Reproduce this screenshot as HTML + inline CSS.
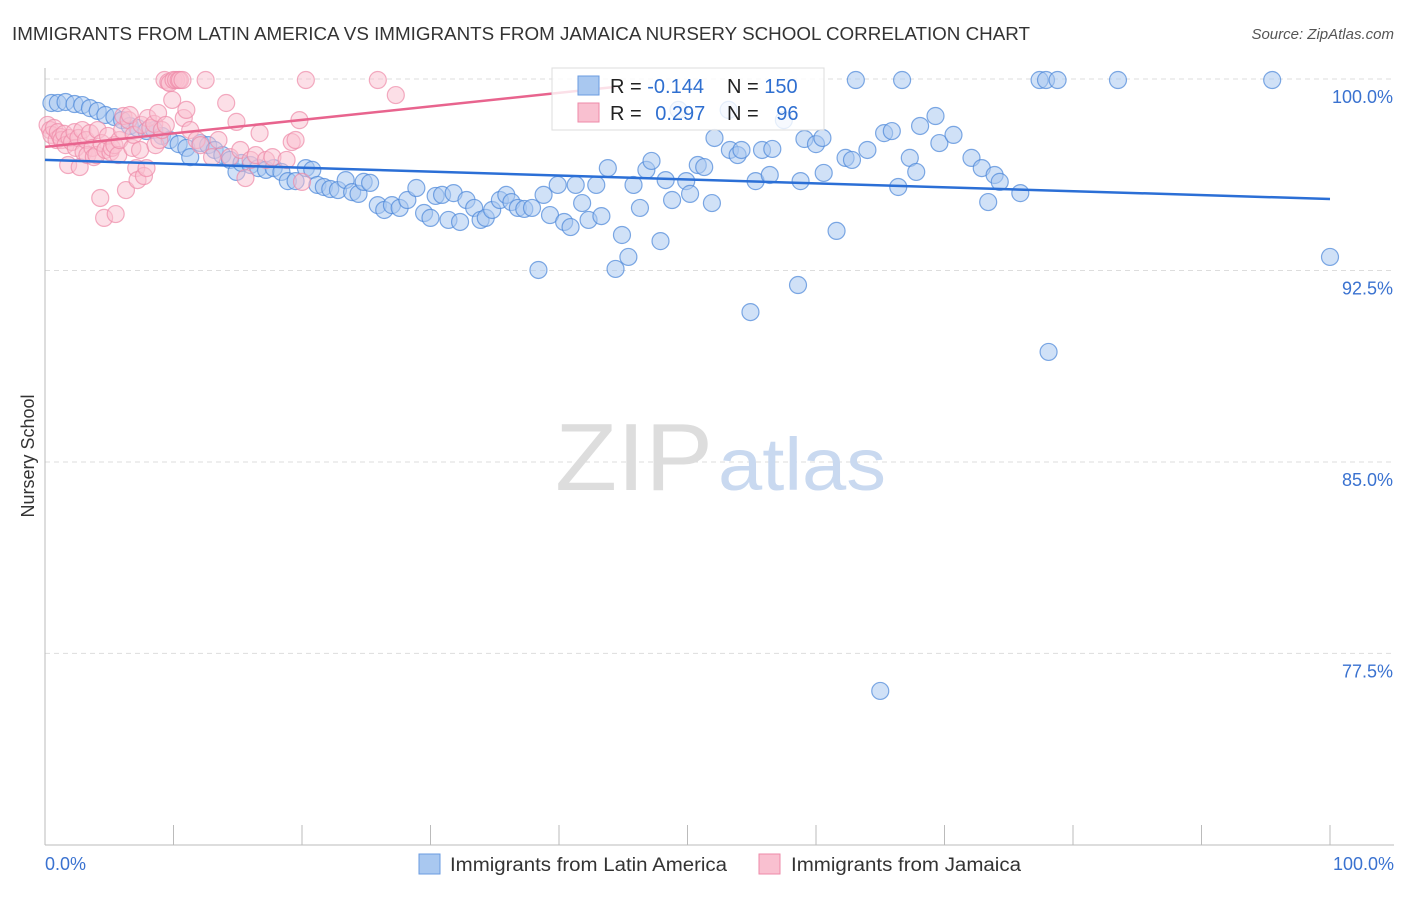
<!DOCTYPE html>
<html><head><meta charset="utf-8"><style>
body{margin:0;background:#fff;font-family:"Liberation Sans",sans-serif;}
svg text{font-family:"Liberation Sans",sans-serif;}
</style></head><body>
<svg width="1406" height="892" xmlns="http://www.w3.org/2000/svg">
<text x="12" y="40" font-size="18" fill="#333" textLength="1018" lengthAdjust="spacingAndGlyphs">IMMIGRANTS FROM LATIN AMERICA VS IMMIGRANTS FROM JAMAICA NURSERY SCHOOL CORRELATION CHART</text>
<text x="1394" y="39" font-size="15" fill="#555" text-anchor="end" font-style="italic">Source: ZipAtlas.com</text>
<g id="grid"></g>
<g id="axes"></g>
<text x="555" y="490" font-size="96" fill="#ddd" font-family="Liberation Serif" textLength="158" lengthAdjust="spacingAndGlyphs">ZIP</text>
<text x="718" y="490" font-size="74" fill="#c9d9f0" textLength="168" lengthAdjust="spacingAndGlyphs">atlas</text>
<g id="pts"></g>
<g id="lines"></g>
<g>
<rect x="552" y="68" width="272" height="62" fill="#fff" fill-opacity="0.8" stroke="#ddd"/>
<rect x="578" y="76" width="21" height="19" fill="#a9c8f0" stroke="#6a9be0"/>
<rect x="578" y="103" width="21" height="19" fill="#f9c0d0" stroke="#ee8aa8"/>
<text x="610" y="93" font-size="20" fill="#222">R = <tspan fill="#2f6fd0">-0.144</tspan></text>
<text x="727" y="93" font-size="20" fill="#222">N = <tspan fill="#2f6fd0">150</tspan></text>
<text x="610" y="120" font-size="20" fill="#222">R = <tspan fill="#2f6fd0" dx="8">0.297</tspan></text>
<text x="727" y="120" font-size="20" fill="#222">N = <tspan fill="#2f6fd0" dx="12">96</tspan></text>
</g>
<text x="34" y="456" font-size="18" fill="#333" transform="rotate(-90 34 456)" text-anchor="middle">Nursery School</text>
<text x="45" y="870" font-size="18" fill="#3a72d0">0.0%</text>
<text x="1394" y="870" font-size="18" fill="#3a72d0" text-anchor="end">100.0%</text>
<g>
<rect x="419" y="854" width="21" height="20" fill="#a9c8f0" stroke="#6a9be0"/>
<text x="450" y="871" font-size="19" fill="#333" textLength="277" lengthAdjust="spacingAndGlyphs">Immigrants from Latin America</text></g>
<g>
<rect x="759" y="854" width="21" height="20" fill="#f9c0d0" stroke="#ee8aa8"/>
<text x="791" y="871" font-size="19" fill="#333" textLength="230" lengthAdjust="spacingAndGlyphs">Immigrants from Jamaica</text></g>
</svg>
<script>
const yTicks=[100,92.5,85,77.5];
const yTickLabels=["100.0%","92.5%","85.0%","77.5%"];
const xTicks=[0,10,20,30,40,50,60,70,80,90,100];
const blueX=[0.5,1.0,1.6,2.3,2.9,3.5,4.1,4.7,5.4,6.0,6.6,7.2,7.9,8.5,9.1,9.7,10.4,11.0,11.3,12.1,12.7,13.2,13.8,14.4,14.9,15.3,16.0,16.6,17.2,17.8,18.4,18.9,19.5,20.3,20.8,21.2,21.7,22.2,22.8,23.4,23.9,24.4,24.8,25.3,25.9,26.4,27.0,27.6,28.2,28.9,29.5,30.0,30.4,30.9,31.4,31.8,32.3,32.8,33.4,33.9,34.3,34.8,35.4,35.9,36.3,36.8,37.3,37.9,38.4,38.8,39.3,39.9,40.4,40.9,41.3,41.8,42.3,42.9,43.3,43.8,44.4,44.9,45.4,45.8,46.3,46.8,47.2,47.9,48.3,48.8,49.3,49.9,50.2,50.8,51.3,51.9,52.1,53.2,53.3,53.9,54.2,54.9,55.3,55.8,56.4,56.6,57.5,58.6,58.8,59.1,60.0,60.5,60.6,61.6,62.3,62.8,63.1,64.0,65.0,65.3,65.9,66.4,66.7,67.3,67.8,68.1,69.3,69.6,70.7,72.1,72.9,73.4,73.9,74.3,75.9,77.4,77.9,78.1,78.8,83.5,95.5,100];
const blueY=[99.06,99.06,99.10,99.02,98.98,98.86,98.75,98.59,98.51,98.39,98.16,98.08,97.96,98.0,97.77,97.61,97.45,97.30,96.94,97.49,97.41,97.22,97.02,96.83,96.36,96.71,96.63,96.51,96.44,96.51,96.36,96.0,96.0,96.51,96.44,95.85,95.77,95.69,95.65,96.04,95.57,95.50,95.97,95.93,95.06,94.87,95.06,94.95,95.26,95.73,94.75,94.56,95.42,95.46,94.48,95.53,94.40,95.26,94.95,94.48,94.56,94.87,95.26,95.46,95.18,94.95,94.91,94.95,92.52,95.46,94.67,95.85,94.40,94.20,95.85,95.14,94.48,95.85,94.63,96.51,92.56,93.89,93.03,95.85,94.95,96.44,96.79,93.65,96.04,95.26,98.79,96.0,95.50,96.63,96.55,95.14,97.69,98.79,97.22,97.02,97.22,90.87,96.0,97.22,96.24,97.26,98.39,91.93,96.0,97.65,97.45,97.69,96.32,94.05,96.91,96.83,99.96,97.22,76.03,97.88,97.96,95.77,99.96,96.91,96.36,98.16,98.55,97.49,97.81,96.91,96.51,95.18,96.24,95.97,95.53,99.96,99.96,89.31,99.96,99.96,99.96,93.03];
const pinkX=[0.2,0.4,0.5,0.7,0.9,1.0,1.2,1.3,1.5,1.6,1.8,1.9,2.1,2.3,2.4,2.6,2.7,2.9,3.0,3.2,3.3,3.5,3.7,3.8,4.0,4.1,4.3,4.4,4.6,4.7,4.9,5.1,5.2,5.4,5.5,5.7,5.8,6.0,6.1,6.3,6.5,6.6,6.8,6.9,7.1,7.2,7.4,7.5,7.7,7.9,8.0,8.2,8.5,8.6,8.8,8.9,9.1,9.3,9.4,9.6,9.7,9.9,10.0,10.2,10.4,10.5,10.7,10.8,11.0,11.3,11.8,12.1,12.5,13.0,13.5,14.1,14.4,14.9,15.2,15.6,16.0,16.4,16.7,17.2,17.7,18.8,19.2,19.5,19.8,20.0,20.3,25.9,27.3];
const pinkY=[98.2,98.0,97.81,98.08,97.61,97.92,97.73,97.61,97.85,97.41,96.63,97.69,97.53,97.92,97.30,97.69,96.55,98.0,97.14,97.61,97.02,97.88,97.30,96.94,97.02,98.0,95.34,97.49,94.56,97.22,97.77,97.14,97.30,97.41,94.71,97.02,97.61,98.0,98.55,95.65,98.39,98.59,97.30,97.81,96.51,96.04,97.22,98.2,96.2,96.51,98.47,98.08,98.24,97.41,98.67,97.61,98.0,99.96,98.2,99.88,99.84,99.18,99.96,99.96,99.96,99.96,99.96,98.47,98.79,98.0,97.61,97.41,99.96,96.94,97.61,99.06,96.94,98.32,97.22,96.12,96.83,97.02,97.88,96.83,96.94,96.83,97.53,97.61,98.39,95.97,99.96,99.96,99.37];
const blueTrend=[96.83,95.30];
const pinkTrend=[97.34,99.69];
const pinkTrendEndX=44.4;
const xs=v=>45+v*12.85, ys=v=>79+(100-v)*25.53;
const NS="http://www.w3.org/2000/svg";
function mk(parent,tag,attrs){const e=document.createElementNS(NS,tag);for(const k in attrs)e.setAttribute(k,attrs[k]);parent.appendChild(e);return e;}
const grid=document.getElementById('grid'),axes=document.getElementById('axes');
yTicks.forEach((t,i)=>{
 const l=mk(grid,'line',{x1:45,x2:1394,y1:ys(t),y2:ys(t),stroke:'#ddd','stroke-dasharray':'5,4'});
 
 
 const tx=mk(axes,'text',{x:1393,y:ys(t)+24,'font-size':18,fill:'#3a72d0','text-anchor':'end'});
 tx.textContent=yTickLabels[i];
 
 
});
const ya=mk(axes,'line',{x1:45,x2:45,y1:68,y2:845,stroke:'#bbb'});


const xa=mk(axes,'line',{x1:45,x2:1394,y1:845,y2:845,stroke:'#bbb'});


xTicks.forEach(t=>{
 const l=mk(axes,'line',{x1:xs(t),x2:xs(t),y1:825,y2:845,stroke:'#bbb'});
 
 
});
const pts=document.getElementById('pts');
blueX.forEach((x,i)=>{
 const c=mk(pts,'circle',{cx:xs(x),cy:ys(blueY[i]),r:8.5,fill:'#a9c8f0','fill-opacity':0.55,stroke:'#4a86d8','stroke-opacity':0.7,'stroke-width':1.2});
 
 
});
pinkX.forEach((x,i)=>{
 const c=mk(pts,'circle',{cx:xs(x),cy:ys(pinkY[i]),r:8.5,fill:'#f9c0d0','fill-opacity':0.5,stroke:'#ee8aa8','stroke-opacity':0.7,'stroke-width':1.2});
 
 
});
const lines=document.getElementById('lines');
const bl=mk(lines,'line',{x1:xs(0),y1:ys(blueTrend[0]),x2:xs(100),y2:ys(blueTrend[1]),stroke:'#2b6fd6','stroke-width':2.5});


const pl=mk(lines,'line',{x1:xs(0),y1:ys(pinkTrend[0]),x2:xs(pinkTrendEndX),y2:ys(pinkTrend[1]),stroke:'#e8648e','stroke-width':2.5});


</script>
</body></html>
